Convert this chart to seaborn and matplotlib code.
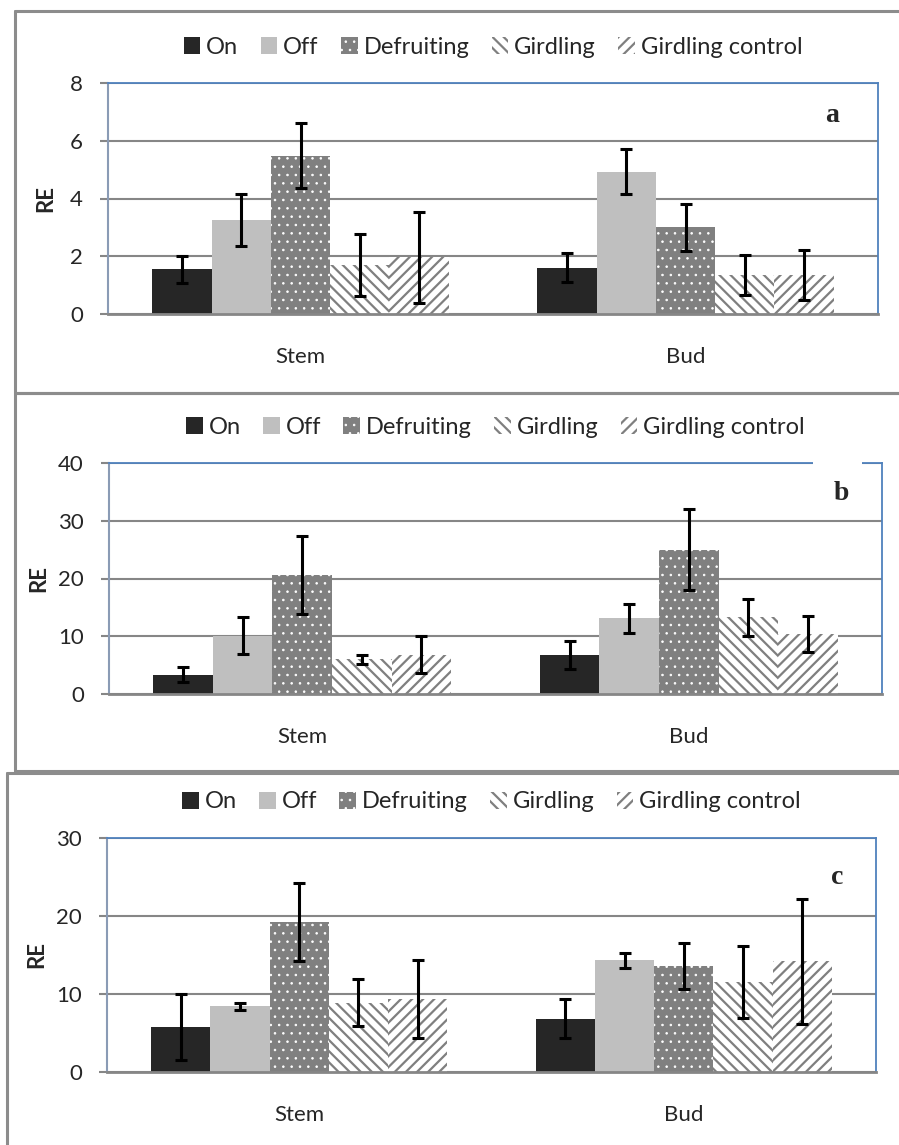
import matplotlib
matplotlib.use("Agg")
import matplotlib.pyplot as plt
from matplotlib.lines import Line2D
from matplotlib.patches import Patch, Rectangle
import pandas as pd
import seaborn as sns

# ----------------------------------------------------------------------------------
# Data

tissues    = ["Stem", "Bud"]
treatments = ["On", "Off", "Defruiting", "Girdling", "Girdling control"]

a_stem     = [1.55, 3.27, 5.48, 1.70, 1.96]
a_stem_err = [0.47, 0.90, 1.13, 1.07, 1.58]
a_bud      = [1.60, 4.92, 3.00, 1.35, 1.35]
a_bud_err  = [0.50, 0.78, 0.81, 0.70, 0.88]

b_stem     = [3.3, 10.1, 20.6, 6.0, 6.8]
b_stem_err = [1.3, 3.2, 6.8, 0.8, 3.2]
b_bud      = [6.7, 13.1, 25.0, 13.3, 10.4]
b_bud_err  = [2.4, 2.5, 7.0, 3.2, 3.1]

c_stem     = [5.8, 8.4, 19.2, 8.9, 9.3]
c_stem_err = [4.2, 0.45, 5.0, 3.0, 5.0]
c_bud      = [6.8, 14.3, 13.6, 11.5, 14.2]
c_bud_err  = [2.5, 1.0, 3.0, 4.6, 8.0]

panel_letters = ["a", "b", "c"]
y_max         = [8, 40, 30]
y_step        = [2, 10, 10]

# ----------------------------------------------------------------------------------
# Style / layout (pixels)

W, H = 899, 1145
GRAY = "#868686"
BLUE = "#4F81BD"
FS = 16
styles = [
    dict(facecolor="#262626", edgecolor="#262626", hatch=None, hlw=1.0),
    dict(facecolor="#BFBFBF", edgecolor="#BFBFBF", hatch=None, hlw=1.0),
    dict(facecolor="#808080", edgecolor="white", hatch="..", hlw=0.6),
    dict(facecolor="white", edgecolor="#7F7F7F", hatch="\\\\\\", hlw=1.6),
    dict(facecolor="white", edgecolor="#7F7F7F", hatch="///", hlw=1.6),
]
# plot area boxes: left, top, right, bottom
boxes    = [(108, 83, 878, 314), (109, 463, 882, 694), (107, 838, 876, 1072)]
frames   = [(15, 11, 393), (15, 393, 771), (7, 773, None)]
letters  = [(832, 116), (841, 494), (837, 878)]
label_x  = [46, 39, 37]

sns.set_style("white")
plt.rcParams["font.family"] = ["Lato", "DejaVu Sans"]

fig = plt.figure(figsize=(W / 100, H / 100), dpi=100)


def hline(x0, x1, y):
    fig.add_artist(Line2D([x0 / W, x1 / W], [1 - y / H, 1 - y / H], color="#8C8C8C",
                          lw=2.2, transform=fig.transFigure))


def vline(x, y0, y1):
    fig.add_artist(Line2D([x / W, x / W], [1 - y0 / H, 1 - y1 / H], color="#8C8C8C",
                          lw=2.2, transform=fig.transFigure))


def hatch_lw(patch, lw):
    if hasattr(patch, "set_hatch_linewidth"):
        patch.set_hatch_linewidth(lw)
    else:
        patch._hatch_linewidth = lw


panels = [
    (a_stem, a_stem_err, a_bud, a_bud_err),
    (b_stem, b_stem_err, b_bud, b_bud_err),
    (c_stem, c_stem_err, c_bud, c_bud_err),
]

for k, (stem, stem_err, bud, bud_err) in enumerate(panels):
    # outer panel frame (right side falls outside the picture)
    fl, ft, fb = frames[k]
    hline(fl, W + 10, ft)
    if fb is not None:
        hline(fl, W + 10, fb)
        vline(fl, ft, fb)
    else:
        vline(fl, ft, H + 10)

    l, t, r, b = boxes[k]
    ax = fig.add_axes([l / W, 1 - b / H, (r - l) / W, (b - t) / H])

    df = pd.DataFrame({
        "tissue": ["Stem"] * 5 + ["Bud"] * 5,
        "treatment": treatments * 2,
        "RE": stem + bud,
        "err": stem_err + bud_err,
    })
    sns.barplot(data=df, x="tissue", y="RE", hue="treatment", order=tissues,
                hue_order=treatments, errorbar=None, width=0.77, gap=0,
                legend=False, ax=ax)

    bar_groups = list(ax.containers)
    for i, cont in enumerate(bar_groups):
        st = styles[i]
        sub = df[df["treatment"] == treatments[i]].set_index("tissue").loc[tissues]
        xs = []
        for bar in cont:
            bar.set_facecolor(st["facecolor"])
            bar.set_edgecolor(st["edgecolor"])
            bar.set_linewidth(0)
            if st["hatch"]:
                bar.set_hatch(st["hatch"])
                hatch_lw(bar, st["hlw"])
            xs.append(bar.get_x() + bar.get_width() / 2)
        ax.errorbar(xs, sub["RE"], yerr=sub["err"], fmt="none", ecolor="black",
                    elinewidth=2.2, capsize=4.6, capthick=2.2, zorder=5)

    ax.set_xlim(-0.5, 1.5)
    ax.set_ylim(0, y_max[k])
    ax.set_yticks(range(0, y_max[k] + 1, y_step[k]))
    ax.yaxis.grid(True, color=GRAY, lw=1.5)
    ax.set_axisbelow(True)

    ax.set_xticks([0, 1])
    ax.set_xticklabels(tissues)
    ax.set_xticks([-0.5, 0.5, 1.5], minor=True)
    ax.tick_params(axis="x", which="major", length=0, pad=24, labelsize=FS)
    ax.tick_params(axis="x", which="minor", length=6, width=1.5, color=GRAY,
                   direction="out")
    ax.tick_params(axis="y", length=6, width=1.5, color=GRAY, pad=12,
                   labelsize=FS, left=True)
    ax.set_xlabel("")
    ax.set_ylabel("RE", fontsize=FS, fontweight="bold")
    ax.yaxis.set_label_coords((label_x[k] + 10 - l) / (r - l), 0.5)

    for side in ["top", "right"]:
        ax.spines[side].set_color(BLUE)
        ax.spines[side].set_linewidth(1.3)
    ax.spines["left"].set_color("#8A9BB5")
    ax.spines["left"].set_linewidth(1.5)
    ax.spines["bottom"].set_color(GRAY)
    ax.spines["bottom"].set_linewidth(2)

    handles = [Patch(facecolor=s["facecolor"], edgecolor=s["edgecolor"],
                     hatch=s["hatch"], lw=0, label=n)
               for s, n in zip(styles, treatments)]
    leg = ax.legend(handles=handles, loc="center",
                    bbox_to_anchor=(0.5, 1 + 36 / (b - t)),
                    ncol=5, frameon=False, fontsize=17, handlelength=0.7,
                    handleheight=0.7, handletextpad=0.25, columnspacing=0.95)
    for s, h in zip(styles, leg.legend_handles):
        if s["hatch"]:
            hatch_lw(h, s["hlw"])

    lx, ly = letters[k]
    fig.text(lx / W, 1 - ly / H, panel_letters[k], ha="center", va="center",
             fontsize=20, fontweight="bold", family="Liberation Serif")

# white patch over the top border near label b
fig.add_artist(Rectangle((813 / W, 1 - 467 / H), 49 / W, 7 / H, facecolor="white",
                         edgecolor="none", transform=fig.transFigure, zorder=10))

fig.savefig("out.png", dpi=100)
